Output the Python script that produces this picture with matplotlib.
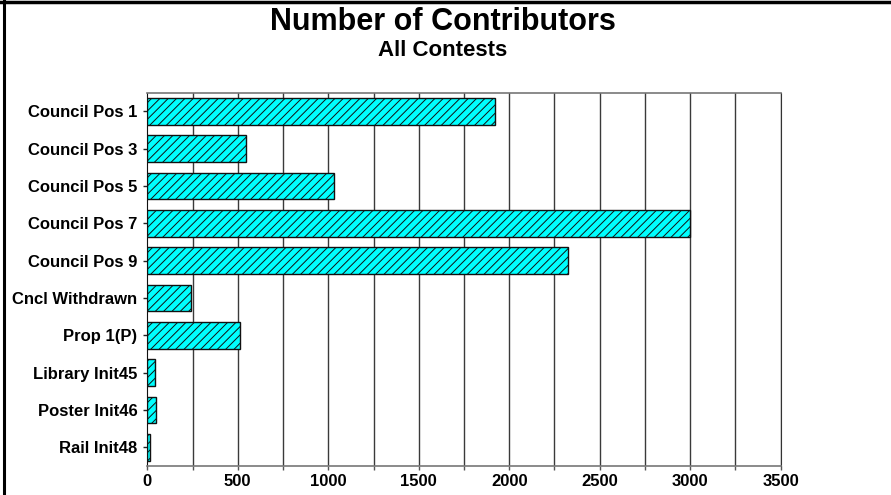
import numpy as np
import matplotlib.pyplot as plt
from matplotlib.lines import Line2D

# contest names, top to bottom
contests = ['Council Pos 1', 'Council Pos 3', 'Council Pos 5', 'Council Pos 7',
            'Council Pos 9', 'Cncl Withdrawn', 'Prop 1(P)', 'Library Init45',
            'Poster Init46', 'Rail Init48']
# number of contributors per contest
contributors = [1920, 547, 1032, 3000, 2322, 240, 512, 44, 48, 17]

x_major = np.arange(0, 3501, 500)
x_minor = np.arange(0, 3501, 250)

plt.rcParams['font.family'] = ['Liberation Sans', 'DejaVu Sans']
plt.rcParams['hatch.linewidth'] = 0.7
plt.rcParams['hatch.color'] = '#1c3c3c'

fig = plt.figure(figsize=(8.91, 4.95), dpi=100)
ax = fig.add_axes([0.1653, 0.0586, 0.7109, 0.7541])

ypos = np.arange(len(contests))
ax.barh(ypos, contributors, height=0.72, color='#00ffff', edgecolor='#111111',
        linewidth=1.0, hatch='////', zorder=3)

ax.set_xlim(0, 3500)
ax.set_ylim(len(contests) - 0.5, -0.5)
ax.set_yticks(ypos)
ax.set_yticklabels(contests, fontsize=12, fontweight='bold')
ax.set_xticks(x_major)
ax.set_xticklabels([str(v) for v in x_major], fontsize=12, fontweight='bold')
ax.set_xticks(x_minor, minor=True)
ax.tick_params(axis='y', length=3, width=1, pad=4, color='#222222')
ax.tick_params(axis='x', which='both', length=3, width=1, pad=3, color='#555555')

# vertical grid every 250
for v in x_minor[1:]:
    ax.axvline(v, color='#3a3a3a', linewidth=1.0, zorder=1)

for side in ['top', 'bottom']:
    ax.spines[side].set_color('#777777')
    ax.spines[side].set_linewidth(1.2)
ax.spines['left'].set_color('#111111')
ax.spines['right'].set_color('#333333')

fig.text(0.497, 0.955, 'Number of Contributors', ha='center', va='center',
         fontsize=22, fontweight='bold')
fig.text(0.497, 0.897, 'All Contests', ha='center', va='center',
         fontsize=16, fontweight='bold')

# frame lines along the top and left edges
fig.add_artist(Line2D([0, 1], [0.995, 0.995], transform=fig.transFigure,
                      color='black', linewidth=2.5))
fig.add_artist(Line2D([0.0045, 0.0045], [0, 1], transform=fig.transFigure,
                      color='black', linewidth=2.2))

fig.savefig('out.png', dpi=100)
